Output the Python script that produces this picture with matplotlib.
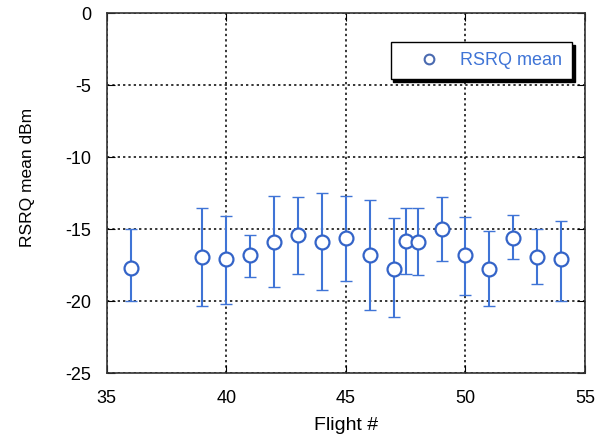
import matplotlib
matplotlib.use("Agg")
import matplotlib.pyplot as plt
from matplotlib.lines import Line2D

plt.rcParams['font.family'] = ['Liberation Sans', 'DejaVu Sans']
plt.rcParams['axes.unicode_minus'] = False

# data
flights = [36, 39, 40, 41, 42, 43, 44, 45, 46, 47, 47.5, 48, 49, 50, 51, 52, 53, 54]
rsrq_mean = [-17.7, -16.9, -17.1, -16.8, -15.9, -15.4, -15.9, -15.6, -16.8, -17.75,
             -15.8, -15.9, -15.0, -16.8, -17.75, -15.6, -16.9, -17.1]
rsrq_top = [-15.0, -13.5, -14.1, -15.4, -12.7, -12.8, -12.5, -12.7, -13.0, -14.2,
            -13.5, -13.5, -12.8, -14.15, -15.1, -14.0, -15.0, -14.45]
rsrq_bottom = [-20.0, -20.3, -20.2, -18.3, -19.0, -18.1, -19.2, -18.6, -20.6, -21.1,
               -18.1, -18.2, -17.2, -19.55, -20.3, -17.1, -18.8, -20.0]

err_low = [m - b for m, b in zip(rsrq_mean, rsrq_bottom)]
err_high = [t - m for m, t in zip(rsrq_mean, rsrq_top)]

blue = "#3f74d6"
mark_col = "#3464c8"

fig = plt.figure(figsize=(6, 4.37), dpi=100)
ax = fig.add_axes([0.178, 0.146, 0.797, 0.824])

ax.errorbar(flights, rsrq_mean, yerr=[err_low, err_high], fmt="none",
            ecolor=blue, elinewidth=1.5, capsize=4, capthick=1.0, zorder=3)
ax.plot(flights, rsrq_mean, "o", mfc="white", mec=mark_col, ms=10, mew=1.6, zorder=4)

ax.set_xlim(35, 55)
ax.set_ylim(-25, 0)
ax.set_xticks([35, 40, 45, 50, 55])
ax.set_yticks([-25, -20, -15, -10, -5, 0])
ax.grid(True, color="black", linestyle=(0, (1.5, 2)), linewidth=1.1)
ax.tick_params(direction="in", length=6, top=True, right=True, labelsize=13)
ax.tick_params(axis="x", pad=12)
ax.tick_params(axis="y", pad=11)
for s in ax.spines.values():
    s.set_linewidth(1.2)
    s.set_color("#333333")

ax.set_xlabel("Flight #", fontsize=14, labelpad=7)
ax.set_ylabel("RSRQ mean dBm", fontsize=12.5, labelpad=22, y=0.545)

handle = Line2D([], [], linestyle="none", marker="o", mfc="white", mec="#4a6ab0",
                ms=7, mew=1.5)
leg = ax.legend([handle], ["RSRQ mean"], loc="upper right",
                bbox_to_anchor=(0.973, 0.92), fontsize=13,
                frameon=True, fancybox=False,
                shadow={"color": "black", "alpha": 1.0}, framealpha=1,
                edgecolor="black", borderpad=0.55, handlelength=3.2,
                handletextpad=0.1, borderaxespad=0)
leg.get_frame().set_linewidth(1.0)
for t in leg.get_texts():
    t.set_color(blue)

fig.savefig("out.png", dpi=100)
